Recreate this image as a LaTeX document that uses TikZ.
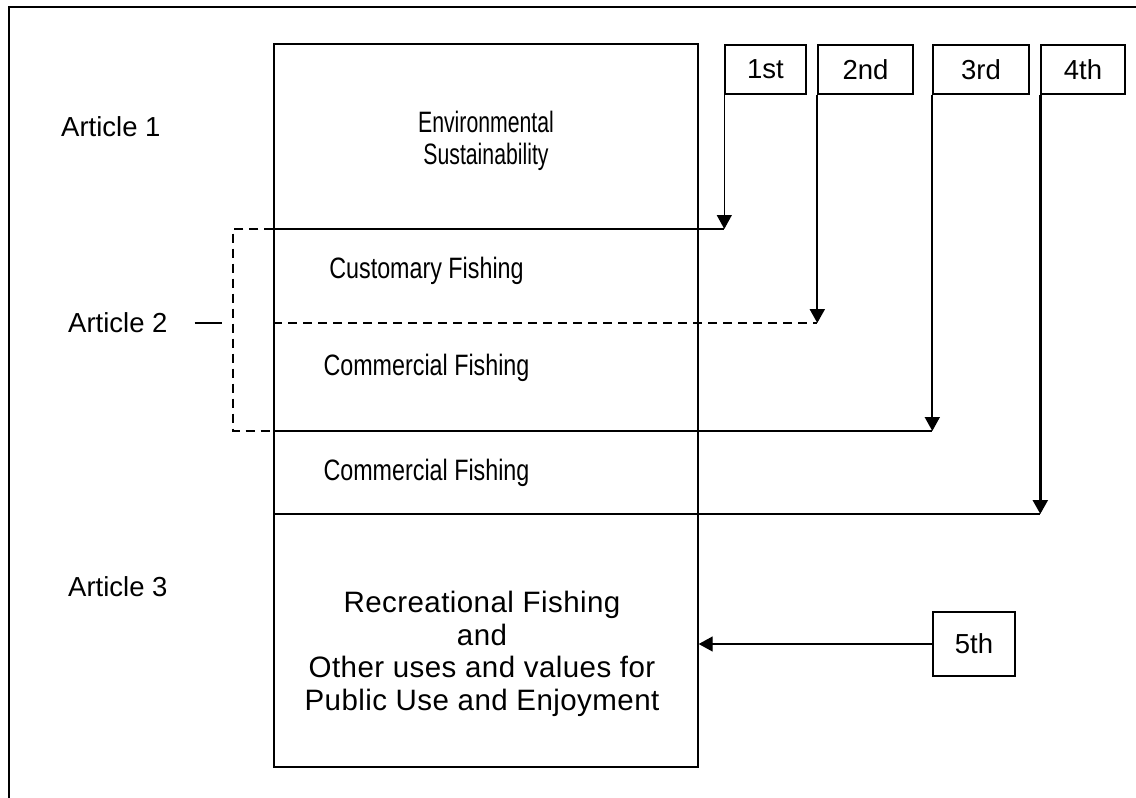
\documentclass[tikz,border=0pt]{standalone}
\usepackage{fontspec}
\setmainfont{Liberation Sans}
\newfontfamily\narrowfont[FakeStretch=0.79]{Liberation Sans}
\newfontfamily\slimfont[FakeStretch=0.72]{Liberation Sans}
\newfontfamily\wideset[LetterSpace=1.5]{Liberation Sans}
\usetikzlibrary{arrows.meta}

\begin{document}
\begin{tikzpicture}[x=1pt,y=-1pt,
  every node/.style={inner sep=0pt, font=\fontsize{27.5}{33}\selectfont},
  thin rule/.style={line width=1.4pt},
  tagbox/.style={draw, line width=1.4pt, minimum height=49pt},
  tip/.style={-{Triangle[length=14pt,width=15pt]}},
  dashrule/.style={line width=1.6pt, dash pattern=on 9pt off 6pt},
  label/.style={anchor=west},
  section/.style={align=center, font=\fontsize{29.5}{32.5}\selectfont\narrowfont}]

\useasboundingbox (0,0) rectangle (1136,798);

% outer frame (open at the right and bottom)
\draw[line width=2.2pt] (9,798) -- (9,7) -- (1136,7);

% the main column
\node[draw, line width=1.4pt, minimum width=424pt, minimum height=723pt] (col) at (486,405.5) {};

% priority tags
\node[tagbox, minimum width=81pt] (b1) at (765.5,69.5) {1st};
\node[tagbox, minimum width=95pt] (b2) at (865.5,69.5) {2nd};
\node[tagbox, minimum width=96pt] (b3) at (981,69.5) {3rd};
\node[tagbox, minimum width=84pt] (b4) at (1083,69.5) {4th};
\node[tagbox, minimum width=82pt, minimum height=64pt] (b5) at (974,644) {5th};

% ends of the dividing lines
\coordinate (d1) at (b1.south west |- 0,229);
\coordinate (d2) at (b2.south west |- 0,323);
\coordinate (d3) at (b3.south west |- 0,431);
\coordinate (d4) at (b4.south west |- 0,514);

% dividing lines running out to the tag arrows
\draw[thin rule] (col.west |- d1) -- (d1);
\draw[dashrule] (col.west |- d2) -- (d2);
\draw[thin rule] (col.west |- d3) -- (d3);
\draw[thin rule] (col.west |- d4) -- (d4);

% tag arrows
\draw[tip, line width=1.3pt] (b1.south west) -- (d1);
\draw[tip, line width=2.2pt] (b2.south west) -- (d2);
\draw[tip, line width=1.8pt] (b3.south west) -- (d3);
\draw[tip, line width=2.4pt] (b4.south west) -- (d4);
\draw[tip, line width=1.4pt] (b5.west) -- (b5.west -| col.east);

% article labels
\node[label] (a1) at (61,127) {Article 1};
\node[label] (a2) at (68,323) {Article 2};
\node[label] (a3) at (68,587) {Article 3};

% bracket grouping the Article 2 sections
\coordinate (k1) at (233,229);
\coordinate (k2) at (233,431);
\draw[dashrule] (col.west |- d1) -- (k1) -- (k2) -- (col.west |- d3);
\coordinate (m1) at ([xshift=27pt]a2.east);
\coordinate (m2) at ([xshift=54pt]a2.east);
\draw[line width=1.3pt] (m1) -- (m2);

% section texts
\node[section, font=\fontsize{29.5}{32}\selectfont\slimfont] (s1) at (486,141) {Environmental\\Sustainability};
\node[section] (s2) at (426.5,271) {Customary Fishing};
\node[section] (s3) at (426.5,368) {Commercial Fishing};
\node[section] (s4) at (426.5,473) {Commercial Fishing};
\node[section, font=\fontsize{29.5}{32.7}\selectfont\wideset] (s5) at (482,654)
  {Recreational Fishing\\and\\Other uses and values for\\Public Use and Enjoyment};

\end{tikzpicture}
\end{document}
